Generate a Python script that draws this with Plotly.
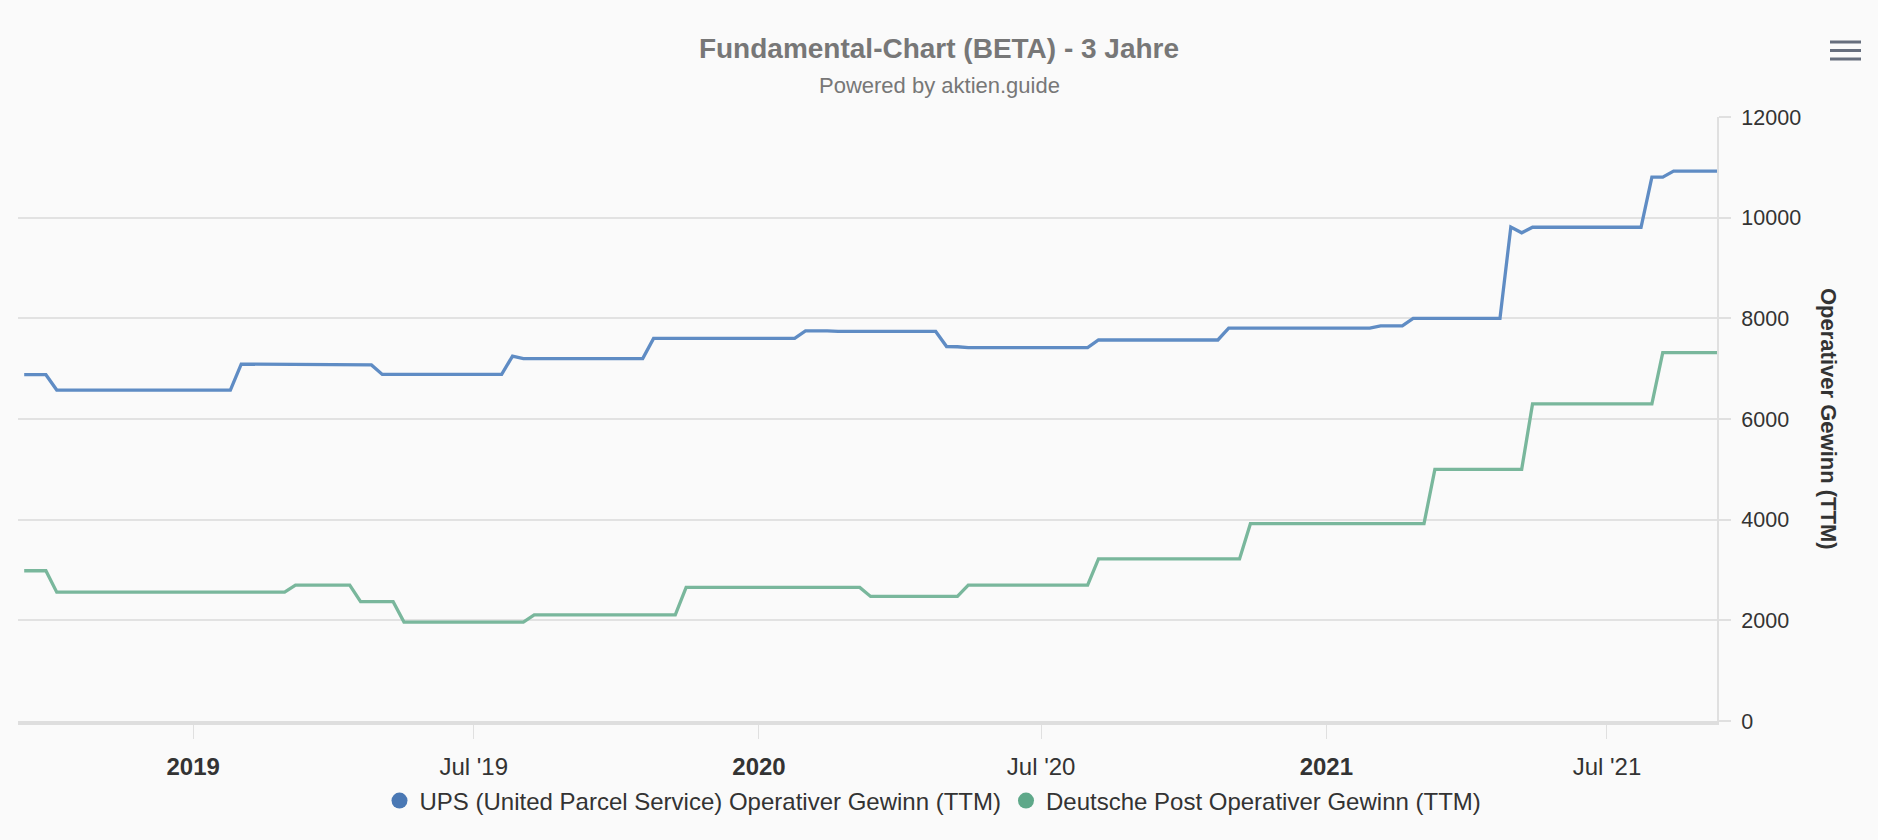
import plotly.graph_objects as go

# ---------------- data ----------------
ups_dates = ["2018-09-14", "2018-09-28", "2018-10-05", "2019-01-25", "2019-02-01", "2019-02-22",
             "2019-03-01", "2019-04-26", "2019-05-03", "2019-07-19", "2019-07-26", "2019-08-02",
             "2019-10-18", "2019-10-25", "2020-01-24", "2020-01-31", "2020-02-14", "2020-02-21",
             "2020-04-24", "2020-05-01", "2020-05-08", "2020-05-15", "2020-07-31", "2020-08-07",
             "2020-10-23", "2020-10-30", "2021-01-29", "2021-02-05", "2021-02-19", "2021-02-26",
             "2021-04-23", "2021-04-30", "2021-05-07", "2021-05-14", "2021-07-23", "2021-07-30",
             "2021-08-06", "2021-08-13", "2021-09-10"]
ups_values = [6880, 6880, 6575, 6575, 7090, 7090,
              7075, 7075, 6885, 6885, 7250, 7200,
              7200, 7600, 7600, 7750, 7750, 7740,
              7740, 7440, 7435, 7420, 7420, 7570,
              7570, 7805, 7805, 7850, 7850, 8000,
              8000, 9815, 9700, 9810, 9810, 10805,
              10805, 10925, 10925]

dp_dates = ["2018-09-14", "2018-09-28", "2018-10-05", "2019-03-01", "2019-03-08", "2019-04-12",
            "2019-04-19", "2019-05-10", "2019-05-17", "2019-08-02", "2019-08-09", "2019-11-08",
            "2019-11-15", "2020-03-06", "2020-03-13", "2020-05-08", "2020-05-15", "2020-07-31",
            "2020-08-07", "2020-11-06", "2020-11-13", "2021-03-05", "2021-03-12", "2021-05-07",
            "2021-05-14", "2021-07-30", "2021-08-06", "2021-09-10"]
dp_values = [2985, 2985, 2560, 2560, 2700, 2700,
             2370, 2370, 1965, 1965, 2110, 2110,
             2655, 2655, 2475, 2475, 2700, 2700,
             3220, 3220, 3920, 3920, 5000, 5000,
             6300, 6300, 7320, 7320]

series_names = ["UPS (United Parcel Service) Operativer Gewinn (TTM)",
                "Deutsche Post Operativer Gewinn (TTM)"]

x_tick_dates = ["2019-01-01", "2019-07-01", "2020-01-01", "2020-07-01", "2021-01-01", "2021-07-01"]
x_tick_labels = ["<b>2019</b>", "Jul '19", "<b>2020</b>", "Jul '20", "<b>2021</b>", "Jul '21"]
y_tick_values = [0, 2000, 4000, 6000, 8000, 10000, 12000]

title_text = "Fundamental-Chart (BETA) - 3 Jahre"
subtitle_text = "Powered by aktien.guide"
y_title_text = "Operativer Gewinn (TTM)"

# ---------------- style ----------------
W, H = 1878, 840
M_L, M_R, M_T, M_B = 18, 161, 117, 119
PW = W - M_L - M_R
PH = H - M_T - M_B

def px_x(px):
    return (px - M_L) / PW

def px_y(py):
    return (H - M_B - py) / PH

line_colors = ["#5f8cc4", "#79b79c"]
legend_colors = ["#4a78b4", "#5ea889"]
font_family = "Liberation Sans, Arial, Helvetica, sans-serif"

fig = go.Figure()
for i, (xs, ys) in enumerate([(ups_dates, ups_values), (dp_dates, dp_values)]):
    fig.add_trace(go.Scatter(
        x=xs, y=ys, mode="lines", name=series_names[i],
        line=dict(color=line_colors[i], width=3.3),
        legendgroup=f"g{i}", showlegend=False, hoverinfo="x+y",
    ))
for i in range(2):
    fig.add_trace(go.Scatter(
        x=[None], y=[None], mode="markers", name=series_names[i],
        marker=dict(color=legend_colors[i], size=16, symbol="circle"),
        legendgroup=f"g{i}", showlegend=True,
    ))

fig.update_layout(
    width=W, height=H,
    margin=dict(l=M_L, r=M_R, t=M_T, b=M_B, pad=0),
    paper_bgcolor="#fafafa", plot_bgcolor="#fafafa",
    font=dict(family=font_family, color="#333333", size=20),
    title=dict(text=f"<b>{title_text}</b>", x=0.5, xref="container", xanchor="center",
               y=1 - 48 / H, yref="container", yanchor="middle",
               font=dict(size=28, color="#777777", family=font_family)),
    showlegend=True,
    legend=dict(orientation="h", x=px_x(W / 2 - 6), xanchor="center", y=px_y(801), yanchor="middle",
                font=dict(size=24, color="#333333"), bgcolor="rgba(0,0,0,0)",
                itemsizing="trace", traceorder="normal"),
    xaxis=dict(
        type="date",
        range=["2018-09-10", "2021-09-10"],
        tickmode="array", tickvals=x_tick_dates, ticktext=x_tick_labels,
        showgrid=False, zeroline=False,
        showline=True, linecolor="#dedede", linewidth=4,
        ticks="outside", ticklen=14, tickcolor="#e0e0e0", tickwidth=1,
        ticklabelstandoff=7,
        tickfont=dict(size=24, color="#333333"),
        fixedrange=True,
    ),
    yaxis=dict(
        side="right", range=[0, 12000],
        tickmode="array", tickvals=y_tick_values, tickformat="d",
        showgrid=True, gridcolor="#e2e2e2", gridwidth=1.5,
        zeroline=False,
        showline=True, linecolor="#e0e0e0", linewidth=2,
        ticks="outside", ticklen=12, tickcolor="#e0e0e0", tickwidth=1.5,
        ticklabelstandoff=6,
        tickfont=dict(size=21.5, color="#333333"),
        fixedrange=True,
    ),
    annotations=[
        dict(text=subtitle_text, x=px_x(W / 2), y=px_y(86), xref="paper", yref="paper",
             xanchor="center", yanchor="middle", showarrow=False,
             font=dict(size=22, color="#777777")),
        dict(text=f"<b>{y_title_text}</b>", x=px_x(1829), y=0.5, xref="paper", yref="paper",
             xanchor="center", yanchor="middle", showarrow=False, textangle=90,
             font=dict(size=22, color="#333333")),
    ],
    shapes=[
        dict(type="line", xref="paper", yref="paper", x0=px_x(1830), x1=px_x(1861),
             y0=px_y(yy), y1=px_y(yy), line=dict(color="#666e7d", width=3))
        for yy in (42, 50.5, 59)
    ],
)

fig.write_html(
    "out.html",
    config={"displayModeBar": False},
    post_script="document.body.style.margin='0';document.body.style.background='#fafafa';",
)
